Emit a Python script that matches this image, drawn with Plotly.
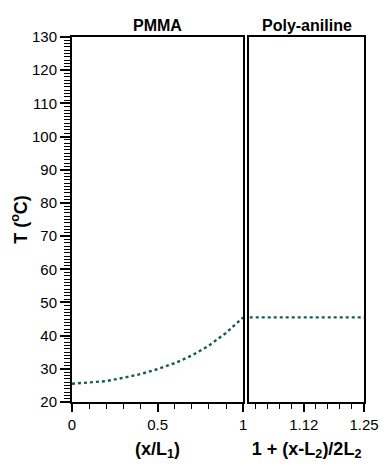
import plotly.graph_objects as go

# Data
x_pmma = [0, 0.1, 0.2, 0.3, 0.4, 0.5, 0.6, 0.7, 0.8, 0.9, 1.0]
t_pmma = [25.5, 25.8, 26.3, 27.3, 28.4, 29.9, 31.7, 34.0, 37.0, 40.8, 45.5]
x_pani = [1.0, 1.25]
t_pani = [45.5, 45.5]

left_ticks = [0, 0.5, 1]
left_ticktext = ["0", "0.5", "1"]
right_ticks = [1.125, 1.25]
right_ticktext = ["1.12", "1.25"]

line_color = "#145a5a"
font_family = "Liberation Sans, Arial, sans-serif"

fig = go.Figure()
fig.add_trace(go.Scatter(x=x_pmma, y=t_pmma, mode="lines", xaxis="x", yaxis="y",
                         line=dict(color=line_color, width=2.4, dash="3px,3px"),
                         showlegend=False))
fig.add_trace(go.Scatter(x=x_pani, y=t_pani, mode="lines", xaxis="x2", yaxis="y2",
                         line=dict(color=line_color, width=2.4, dash="3px,3px"),
                         showlegend=False))

axis_common = dict(showline=True, linecolor="black", linewidth=2, mirror=True,
                   showgrid=False, zeroline=False, ticks="outside", tickcolor="black",
                   tickfont=dict(family=font_family, size=15, color="black"))

fig.update_layout(
    width=392, height=476,
    margin=dict(l=72, r=28, t=37, b=74),
    plot_bgcolor="white", paper_bgcolor="white",
    font=dict(family=font_family, color="black"),
    xaxis=dict(domain=[0, 0.586], range=[0, 1], tickvals=left_ticks, ticktext=left_ticktext,
               ticklen=8, tickwidth=1.5,
               minor=dict(dtick=0.1, tick0=0, ticklen=5, tickwidth=1.2, ticks="outside", tickcolor="black"),
               title=dict(text="<b>(x/L<sub>1</sub>)</b>", font=dict(size=18, family=font_family), standoff=10),
               anchor="y", **axis_common),
    yaxis=dict(domain=[0, 1], range=[20, 130], dtick=10, tick0=0,
               ticklen=10, tickwidth=1.5,
               minor=dict(dtick=1, tick0=0, ticklen=6, tickwidth=1, ticks="outside", tickcolor="black"),
               title=dict(text="<b>T (<sup>o</sup>C)</b>", font=dict(size=18, family=font_family), standoff=0),
               anchor="x", **axis_common),
    xaxis2=dict(domain=[0.607, 1], range=[1.0115, 1.25], tickvals=right_ticks, ticktext=right_ticktext,
                ticklen=8, tickwidth=1.5,
                minor=dict(dtick=0.025, tick0=1.0, ticklen=5, tickwidth=1.2, ticks="outside", tickcolor="black"),
                title=dict(text="<b>1 + (x-L<sub>2</sub>)/2L<sub>2</sub></b>", font=dict(size=18, family=font_family), standoff=10),
                anchor="y2", **axis_common),
    yaxis2=dict(domain=[0, 1], range=[20, 130], showticklabels=False, ticks="",
                anchor="x2", showline=True, linecolor="black", linewidth=2, mirror=True,
                showgrid=False, zeroline=False),
    annotations=[
        dict(text="<b>PMMA</b>", xref="x domain", yref="paper", x=0.5, y=1.0, yshift=1,
             xanchor="center", yanchor="bottom", showarrow=False,
             font=dict(size=16, family=font_family, color="black")),
        dict(text="<b>Poly-aniline</b>", xref="x2 domain", yref="paper", x=0.5, y=1.0, yshift=1,
             xanchor="center", yanchor="bottom", showarrow=False,
             font=dict(size=16, family=font_family, color="black")),
    ],
)

fig.write_html("out.html")
